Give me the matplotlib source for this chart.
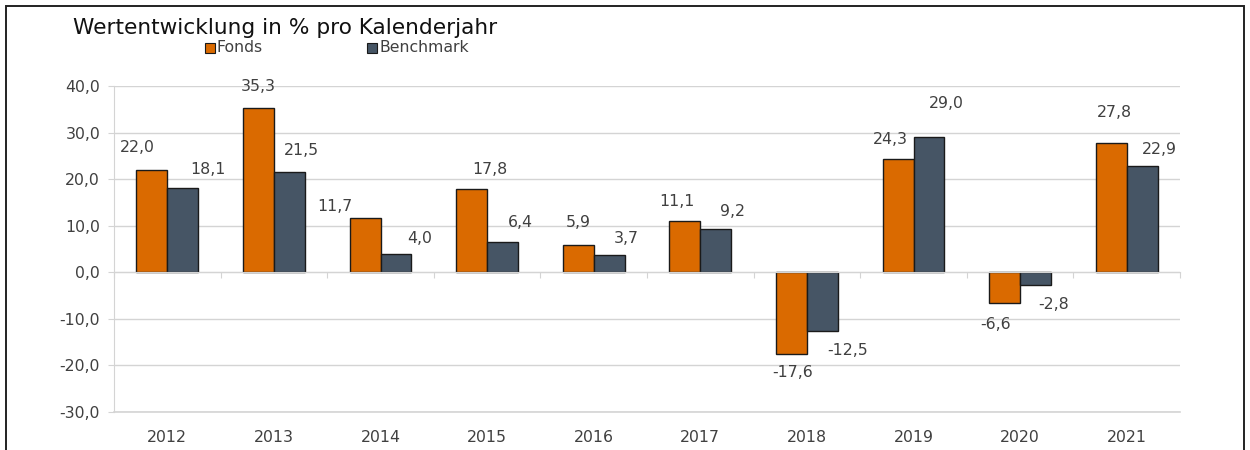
import numpy as np
import matplotlib
matplotlib.use('Agg')
import matplotlib.pyplot as plt
from matplotlib.patches import Rectangle
from matplotlib.ticker import FuncFormatter

# data
years = ['2012', '2013', '2014', '2015', '2016', '2017', '2018', '2019', '2020', '2021']
fonds = [22.0, 35.3, 11.7, 17.8, 5.9, 11.1, -17.6, 24.3, -6.6, 27.8]
bench = [18.1, 21.5, 4.0, 6.4, 3.7, 9.2, -12.5, 29.0, -2.8, 22.9]

# label offsets in pixels (dx, dy from bar end), as placed in the original
off_f = [(-15, 22), (0, 21), (-30, 11), (18, 20), (0, 22), (-8, 19), (1, -18), (-8, 20), (-9, -21), (3, 30)]
off_b = [(25, 18), (12, 22), (24, 15), (18, 20), (17, 17), (17, 18), (25, -20), (17, 34), (18, -19), (17, 16)]

c_fonds = '#DA6A00'
c_bench = '#465565'
txt = '#404040'
grid = '#D4D4D4'
px = 0.72  # pixel -> points at dpi 100

plt.rcParams['font.family'] = 'DejaVu Sans'

fig = plt.figure(figsize=(12.5, 4.5), dpi=100)
ax = fig.add_axes([114/1250, 1-412/450, (1180-114)/1250, (412-86)/450])

x = np.arange(len(years))
w = 0.29
ax.bar(x - w/2, fonds, w, color=c_fonds, edgecolor='#1a1a1a', linewidth=1, zorder=3)
ax.bar(x + w/2, bench, w, color=c_bench, edgecolor='#1a1a1a', linewidth=1, zorder=3)

def lab(v):
    return f'{v:.1f}'.replace('.', ',')

for i in range(len(years)):
    for val, xo, (dx, dy) in ((fonds[i], x[i] - w/2, off_f[i]), (bench[i], x[i] + w/2, off_b[i])):
        ax.annotate(lab(val), (xo, val), xytext=(dx*px, dy*px),
                    textcoords='offset points', ha='center', va='center',
                    fontsize=11.3, color=txt, zorder=4)

ax.set_xlim(-0.5, len(years) - 0.5)
ax.set_ylim(-30, 40)
ax.set_yticks(np.arange(-30, 41, 10))
ax.yaxis.set_major_formatter(FuncFormatter(lambda v, p: lab(v)))
ax.grid(axis='y', color=grid, linewidth=1, zorder=0)
ax.axhline(-30, color=grid, linewidth=1.2, clip_on=False, zorder=1)
ax.tick_params(axis='y', colors=grid, labelcolor=txt, labelsize=11.3, length=4, pad=6)

for s in ('top', 'right'):
    ax.spines[s].set_visible(False)
ax.spines['left'].set_color(grid)
ax.spines['bottom'].set_position(('data', 0))
ax.spines['bottom'].set_color(grid)
ax.spines['bottom'].set_zorder(5)
ax.set_xticks(np.arange(len(years) + 1) - 0.5)
ax.set_xticklabels([])
ax.tick_params(axis='x', colors=grid, length=4)

sec = ax.secondary_xaxis('bottom')
sec.set_xticks(x, years)
sec.tick_params(length=0, pad=13, labelsize=11.3, labelcolor=txt)
sec.spines['bottom'].set_visible(False)

# title and legend
fig.text(73/1250, 1-28/450, 'Wertentwicklung in % pro Kalenderjahr', fontsize=15.6,
         color='#111111', va='center', ha='left')
for xs, name, col in ((205, 'Fonds', c_fonds), (367, 'Benchmark', c_bench)):
    fig.patches.append(Rectangle((xs/1250, 1-53/450), 10/1250, 10/450, transform=fig.transFigure,
                                 facecolor=col, edgecolor='#1a1a1a', linewidth=0.8))
    fig.text((xs+12)/1250, 1-48/450, name, fontsize=11.3, color=txt, va='center', ha='left')

# outer frame
fig.patches.append(Rectangle((6/1250, -0.05), (1244-6)/1250, 1.05-6/450, transform=fig.transFigure,
                             fill=False, edgecolor='#222222', linewidth=1.4))

fig.savefig('out.png', dpi=100)
